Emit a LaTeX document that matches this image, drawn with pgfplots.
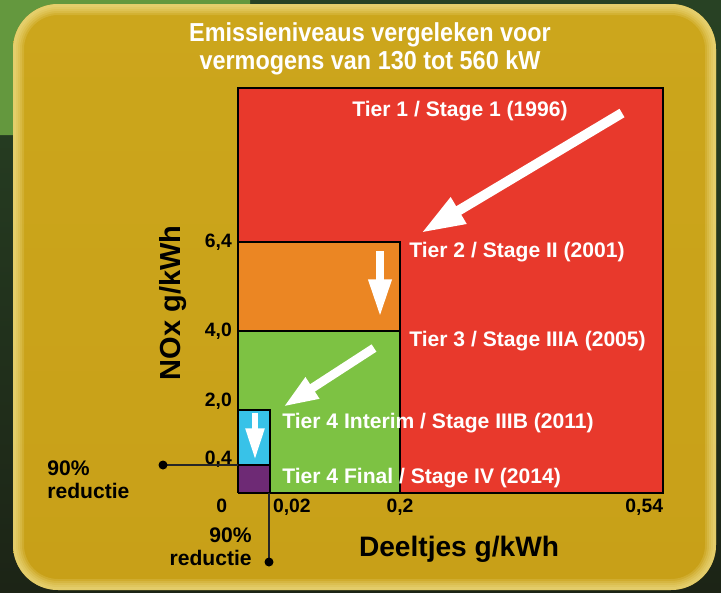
\documentclass[border=0pt]{standalone}
\usepackage{pgfplots}
\pgfplotsset{compat=1.18}
\usetikzlibrary{arrows.meta}
\usepackage{fontspec}
\setmainfont{Liberation Sans}
\newfontfamily\titlefont[FakeStretch=0.9]{Liberation Sans}

\definecolor{tierone}{RGB}{232,57,44}
\definecolor{tiertwo}{RGB}{235,134,35}
\definecolor{tierthree}{RGB}{125,194,67}
\definecolor{tierfourA}{RGB}{56,194,232}
\definecolor{tierfourB}{RGB}{110,42,117}
\definecolor{goldtop}{RGB}{204,166,28}
\definecolor{goldmid}{RGB}{244,210,30}
\definecolor{goldbot}{RGB}{200,160,24}
\definecolor{goldedge}{RGB}{250,238,165}
\definecolor{leafA}{RGB}{100,152,62}
\definecolor{leafB}{RGB}{40,66,36}
\definecolor{leafC}{RGB}{28,36,22}

% piecewise scale: the picture is schematic, not linear
\pgfplotsset{
  tierscale/.style={
    x coord trafo/.code={\pgfmathparse{##1<=0.02 ? ##1*1600 : (##1<=0.2 ? 32+(##1-0.02)*722.222 : 162+(##1-0.2)*773.53)}},
    y coord trafo/.code={\pgfmathparse{##1<=0.4 ? ##1*70 : (##1<=2 ? 28+(##1-0.4)*34.375 : (##1<=4 ? 83+(##1-2)*39.5 : (##1<=6.4 ? 162+(##1-4)*37.083 : 251+(##1-6.4)*55)))}},
  },
}

\begin{document}
\begin{tikzpicture}
% background card, 1px = 0.2mm
\begin{scope}[x=0.2mm,y=-0.2mm]
  \shade[top color=leafB, bottom color=leafC] (0,0) rectangle (721,592);
  \fill[leafA] (0,0) -- (250,0) -- (250,8) -- (15,135) -- (0,135) -- cycle;
  \shade[rounded corners=9mm, top color=goldtop, middle color=goldmid, bottom color=goldbot] (13,4) rectangle (716,590);
  \begin{scope}
    \clip[rounded corners=9mm] (13,4) rectangle (716,590);
    \foreach \w in {1.2,2.0,2.8,3.6,4.4}
      \draw[rounded corners=9mm, goldedge, opacity=0.16, line width=\w mm] (13,4) rectangle (716,590);
  \end{scope}
\end{scope}

\begin{axis}[
  tierscale,
  at={(47.6mm,-98.6mm)}, anchor=south west,
  scale only axis, width=85mm, height=81mm,
  xmin=0, xmax=0.54, ymin=0, ymax=9.2,
  axis line style={draw=none},
  major tick length=0pt,
  xtick={0,0.02,0.2,0.54},
  xticklabels={{\makebox[0pt][r]{0\hspace{2.2mm}}},{\makebox[0pt][l]{\hspace{0.6mm}0,02}},{0,2},{\makebox[0pt][r]{0,54}}},
  ytick={0.4,2,4,6.4},
  yticklabels={{\raisebox{1.2mm}[\height][\depth]{0,4}},{\raisebox{1.7mm}[\height][\depth]{2,0}},{4,0},{6,4}},
  tick label style={font=\bfseries\fontsize{11}{13}\selectfont, text=black},
  /pgf/number format/assume math mode=true,
  clip=false,
]
\addplot[fill=tierone, draw=black, line width=0.6pt] coordinates {(0,0) (0.54,0) (0.54,9.2) (0,9.2) (0,0)};
\addplot[fill=tiertwo, draw=black, line width=1pt] coordinates {(0,4) (0.2,4) (0.2,6.4) (0,6.4) (0,4)};
\addplot[fill=tierthree, draw=black, line width=1pt] coordinates {(0,0) (0.2,0) (0.2,4) (0,4) (0,0)};
\addplot[fill=tierfourA, draw=black, line width=0.8pt] coordinates {(0,0.4) (0.02,0.4) (0.02,2) (0,2) (0,0.4)};
\addplot[fill=tierfourB, draw=black, line width=0.8pt] coordinates {(0,0) (0.02,0) (0.02,0.4) (0,0.4) (0,0)};
\end{axis}

\begin{scope}[x=0.2mm,y=-0.2mm, every node/.style={font=\bfseries\fontsize{12}{14}\selectfont}]
  % title
  \node[white, align=center, font=\titlefont\bfseries\fontsize{14.8}{16}\selectfont] at (370,49)
    {Emissieniveaus vergeleken voor\\vermogens van 130 tot 560 kW};
  % stage labels
  \node[white, anchor=west, inner sep=0] at (352,111) {Tier 1 / Stage 1 (1996)};
  \node[white, anchor=west, inner sep=0] at (409,252) {Tier 2 / Stage II (2001)};
  \node[white, anchor=west, inner sep=0] at (409,341) {Tier 3 / Stage IIIA (2005)};
  \node[white, anchor=west, inner sep=0] at (282,423) {Tier 4 Interim / Stage IIIB (2011)};
  \node[white, anchor=west, inner sep=0] at (282,478) {Tier 4 Final / Stage IV (2014)};
  % arrows
  \draw[white, line width=5.6pt, -{Triangle[length=25pt,width=16pt]}] (622,113) -- (421,233);
  \draw[white, line width=5pt, -{Triangle[length=22pt,width=12pt]}] (380,251) -- (380,318);
  \draw[white, line width=5pt, -{Triangle[length=20pt,width=13pt]}] (374,348) -- (283,407);
  \draw[white, line width=3.6pt, -{Triangle[length=18pt,width=10pt]}] (255,413) -- (255,460);
  % reduction markers
  \draw[black!85, line width=1.2pt] (238,465) -- (163,465);
  \fill[black] (163,465) circle (4.5);
  \draw[black!85, line width=1.2pt] (269,493) -- (269,562);
  \fill[black] (269,562) circle (4.5);
  \node[anchor=west, align=left, inner sep=0] at (47,480) {90\%\\[-1pt]reductie};
  \node[anchor=east, align=right, inner sep=0] at (252,547) {90\%\\[-1pt]reductie};
  % axis titles
  \node[rotate=90, font=\bfseries\fontsize{16.5}{19}\selectfont] at (173,303) {NOx g/kWh};
  \node[font=\bfseries\fontsize{16}{18}\selectfont] at (459,549) {Deeltjes g/kWh};
\end{scope}
\end{tikzpicture}
\end{document}
